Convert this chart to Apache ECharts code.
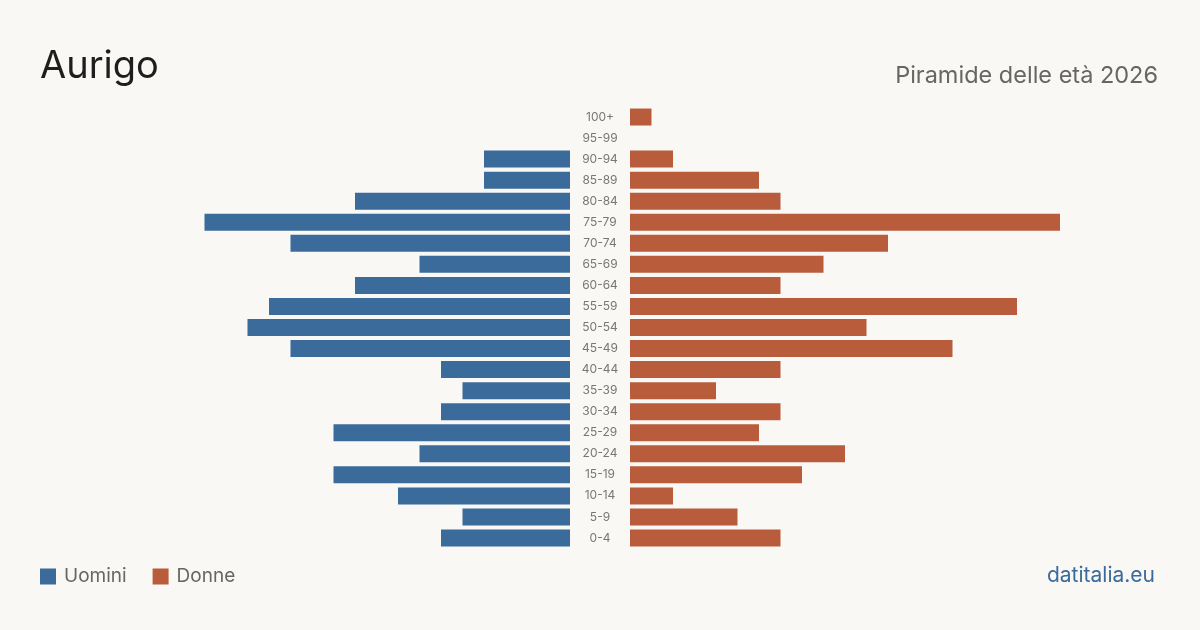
<!DOCTYPE html>
<html>
<head>
<meta charset="utf-8">
<script src="https://cdn.jsdelivr.net/npm/echarts@6/dist/echarts.min.js"></script>
<style>
  html, body { margin: 0; padding: 0; background: #f9f8f4; }
  #main { width: 1200px; height: 630px; }
</style>
</head>
<body>
<div id="main"></div>
<script>
// age classes, bottom to top
var ageGroups = ['0-4', '5-9', '10-14', '15-19', '20-24', '25-29', '30-34', '35-39', '40-44', '45-49',
  '50-54', '55-59', '60-64', '65-69', '70-74', '75-79', '80-84', '85-89', '90-94', '95-99', '100+'];
var men =   [6, 5, 8, 11, 7, 11, 6, 5, 6, 13, 15, 14, 10, 7, 13, 17, 10, 4, 4, 0, 0];
var women = [7, 5, 2, 8, 10, 6, 7, 4, 7, 15, 11, 18, 7, 9, 12, 20, 7, 6, 2, 0, 1];

var blue = '#3b6b9b';
var orange = '#b95c3c';
var maxVal = 20;

var myChart = echarts.init(document.getElementById('main'));

var option = {
  backgroundColor: '#f9f8f4',
  textStyle: { fontFamily: 'Inter' },
  title: [
    {
      text: 'Aurigo', left: 40, top: 48, padding: 0,
      textStyle: { fontSize: 38, fontWeight: 'normal', color: '#1e1e1e', fontFamily: 'Inter' }
    },
    {
      text: 'Piramide delle età 2026', right: 42, top: 64, padding: 0,
      textStyle: { fontSize: 23.5, fontWeight: 'normal', color: '#666666', fontFamily: 'Inter' }
    },
    {
      text: 'datitalia.eu', right: 45, top: 565, padding: 0,
      textStyle: { fontSize: 21, fontWeight: 'normal', color: blue, fontFamily: 'Inter' }
    }
  ],
  legend: {
    left: 40, top: 567, padding: 0,
    itemWidth: 16, itemHeight: 16, itemGap: 26,
    icon: 'rect',
    textStyle: { fontSize: 19, color: '#666666', fontFamily: 'Inter', padding: [0, 0, 0, 3] },
    data: ['Uomini', 'Donne']
  },
  grid: [
    { left: 140, right: 630, top: 106.5, bottom: 81.5 },
    { left: 630, right: 140, top: 106.5, bottom: 81.5 }
  ],
  xAxis: [
    { type: 'value', gridIndex: 0, min: 0, max: maxVal, inverse: true, show: false },
    { type: 'value', gridIndex: 1, min: 0, max: maxVal, show: false }
  ],
  yAxis: [
    {
      type: 'category', gridIndex: 0, data: ageGroups, position: 'right',
      axisLine: { show: false }, axisTick: { show: false },
      axisLabel: { align: 'center', margin: 30, fontSize: 12, color: '#777777', fontFamily: 'Inter' }
    },
    {
      type: 'category', gridIndex: 1, data: ageGroups, show: false
    }
  ],
  series: [
    {
      name: 'Uomini', type: 'bar', xAxisIndex: 0, yAxisIndex: 0,
      data: men, barWidth: 17, itemStyle: { color: blue }, silent: true
    },
    {
      name: 'Donne', type: 'bar', xAxisIndex: 1, yAxisIndex: 1,
      data: women, barWidth: 17, itemStyle: { color: orange }, silent: true
    }
  ]
};

myChart.setOption(option);
</script>
</body>
</html>
